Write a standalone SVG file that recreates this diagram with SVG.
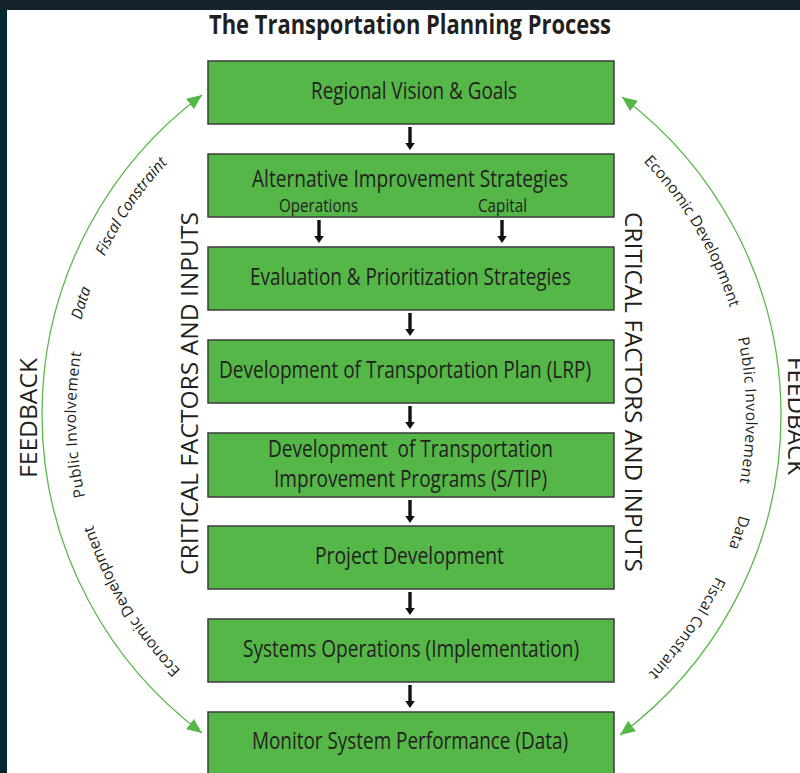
<svg xmlns="http://www.w3.org/2000/svg" xmlns:xlink="http://www.w3.org/1999/xlink" width="800" height="773" viewBox="0 0 800 773">
  <style>
    .box { fill: #55b748; stroke: #3b3b3b; stroke-width: 1.5; }
    .lbl { font-family: "Open Sans", "Liberation Sans", sans-serif; fill: #231f20; text-anchor: middle; }
    .big { font-size: 24px; }
    .sub { font-size: 18.5px; }
    .side { font-family: "Open Sans", "Liberation Sans", sans-serif; fill: #231f20; font-size: 24px; text-anchor: middle; }
    .arc-lbl { font-family: "Open Sans", "Liberation Sans", sans-serif; fill: #231f20; font-size: 15.5px; text-anchor: middle; }
    .step { fill: #111111; }
    .feedback { fill: none; stroke: #5ab94a; stroke-width: 1.3; }
  </style>
  <defs>
    <marker id="greenHead" markerUnits="userSpaceOnUse" markerWidth="16" markerHeight="14" refX="15" refY="6.5" orient="auto-start-reverse">
      <path d="M0,0 L15,6.5 L0,13 z" fill="#55b748"/>
    </marker>
    <!-- circles carrying the feedback labels, traversed clockwise -->
    <path id="leftInner" d="M 440,779 A 364 364 0 1 1 440,51 A 364 364 0 1 1 440,779"/>
    <path id="leftOuter" d="M 440,786 A 371 371 0 1 1 440,44 A 371 371 0 1 1 440,786"/>
    <path id="rightInner" d="M 382,51 A 364 364 0 1 1 382,779 A 364 364 0 1 1 382,51"/>
    <path id="rightOuter" d="M 382,44 A 371 371 0 1 1 382,786 A 371 371 0 1 1 382,44"/>
    <path id="stepArrow" d="M -1.7,0 h 3.4 v 16 h 3.1 l -4.8,7 l -4.8,-7 h 3.1 z"/>
  </defs>

  <rect x="0" y="0" width="800" height="773" fill="#ffffff"/>
  <rect x="0" y="0" width="7" height="773" fill="#03292f"/>
  <rect x="0" y="0" width="800" height="10" fill="#16232d"/>

  <text id="title" class="lbl" x="410" y="34" font-size="26" font-weight="bold" textLength="402" lengthAdjust="spacingAndGlyphs">The Transportation Planning Process</text>

  <g id="connectors">
    <use href="#stepArrow" class="step" x="410" y="127"/>
    <use href="#stepArrow" class="step" x="319" y="220"/>
    <use href="#stepArrow" class="step" x="502" y="220"/>
    <use href="#stepArrow" class="step" x="410" y="313"/>
    <use href="#stepArrow" class="step" x="410" y="406"/>
    <use href="#stepArrow" class="step" x="410" y="500"/>
    <use href="#stepArrow" class="step" x="410" y="592"/>
    <use href="#stepArrow" class="step" x="410" y="685"/>
    <path id="feedback-left" class="feedback" d="M 202,95 A 398 398 0 0 0 202,733" marker-start="url(#greenHead)" marker-end="url(#greenHead)"/>
    <path id="feedback-right" class="feedback" d="M 622,97 A 398 398 0 0 1 620,735" marker-start="url(#greenHead)" marker-end="url(#greenHead)"/>
  </g>

  <g id="node-vision">
    <rect class="box" x="208" y="61" width="406" height="63"/>
    <text class="lbl big" x="414" y="99" textLength="206" lengthAdjust="spacingAndGlyphs">Regional Vision &amp; Goals</text>
  </g>
  <g id="node-alternatives">
    <rect class="box" x="208" y="154" width="406" height="63"/>
    <text class="lbl big" x="410" y="186.5" textLength="316" lengthAdjust="spacingAndGlyphs">Alternative Improvement Strategies</text>
    <text class="lbl sub" x="318.5" y="211.5" textLength="79" lengthAdjust="spacingAndGlyphs">Operations</text>
    <text class="lbl sub" x="502.5" y="211.5" textLength="49" lengthAdjust="spacingAndGlyphs">Capital</text>
  </g>
  <g id="node-evaluation">
    <rect class="box" x="208" y="247" width="406" height="63"/>
    <text class="lbl big" x="410.5" y="285" textLength="321" lengthAdjust="spacingAndGlyphs">Evaluation &amp; Prioritization Strategies</text>
  </g>
  <g id="node-plan">
    <rect class="box" x="208" y="340" width="406" height="63"/>
    <text class="lbl big" x="405" y="378" textLength="372" lengthAdjust="spacingAndGlyphs">Development of Transportation Plan (LRP)</text>
  </g>
  <g id="node-tip">
    <rect class="box" x="208" y="433" width="406" height="64"/>
    <text class="lbl big" x="410.5" y="457" font-size="22.5" textLength="285" lengthAdjust="spacingAndGlyphs" xml:space="preserve">Development  of Transportation</text>
    <text class="lbl big" x="410.5" y="487" font-size="22.5" textLength="273" lengthAdjust="spacingAndGlyphs">Improvement Programs (S/TIP)</text>
  </g>
  <g id="node-project">
    <rect class="box" x="208" y="526" width="406" height="63"/>
    <text class="lbl big" x="409.5" y="564" textLength="189" lengthAdjust="spacingAndGlyphs">Project Development</text>
  </g>
  <g id="node-operations">
    <rect class="box" x="208" y="619" width="406" height="63"/>
    <text class="lbl big" x="411" y="657" textLength="336" lengthAdjust="spacingAndGlyphs">Systems Operations (Implementation)</text>
  </g>
  <g id="node-monitor">
    <rect class="box" x="208" y="712" width="406" height="66"/>
    <text class="lbl big" x="410" y="749" textLength="316" lengthAdjust="spacingAndGlyphs">Monitor System Performance (Data)</text>
  </g>

  <g id="critical-factors">
    <text class="side" transform="translate(198,393.5) rotate(-90)" textLength="363" lengthAdjust="spacingAndGlyphs">CRITICAL FACTORS AND INPUTS</text>
    <text class="side" transform="translate(625,392) rotate(90)" textLength="360" lengthAdjust="spacingAndGlyphs">CRITICAL FACTORS AND INPUTS</text>
  </g>

  <g id="feedback-labels">
    <text class="side" transform="translate(37,418) rotate(-90)" textLength="120" lengthAdjust="spacingAndGlyphs">FEEDBACK</text>
    <text class="side" transform="translate(788,416) rotate(90)" textLength="118" lengthAdjust="spacingAndGlyphs">FEEDBACK</text>

    <text class="arc-lbl"><textPath href="#leftInner" startOffset="374">Economic Development</textPath></text>
    <text class="arc-lbl" letter-spacing="0.5"><textPath href="#leftInner" startOffset="562">Public Involvement</textPath></text>
    <text class="arc-lbl" font-style="italic"><textPath href="#leftOuter" startOffset="695">Data</textPath></text>
    <text class="arc-lbl" font-style="italic"><textPath href="#leftOuter" startOffset="803">Fiscal Constraint</textPath></text>

    <text class="arc-lbl"><textPath href="#rightInner" startOffset="377">Economic Development</textPath></text>
    <text class="arc-lbl" letter-spacing="0.5"><textPath href="#rightInner" startOffset="567">Public Involvement</textPath></text>
    <text class="arc-lbl"><textPath href="#rightOuter" startOffset="701">Data</textPath></text>
    <text class="arc-lbl"><textPath href="#rightOuter" startOffset="809">Fiscal Constraint</textPath></text>
  </g>
</svg>
